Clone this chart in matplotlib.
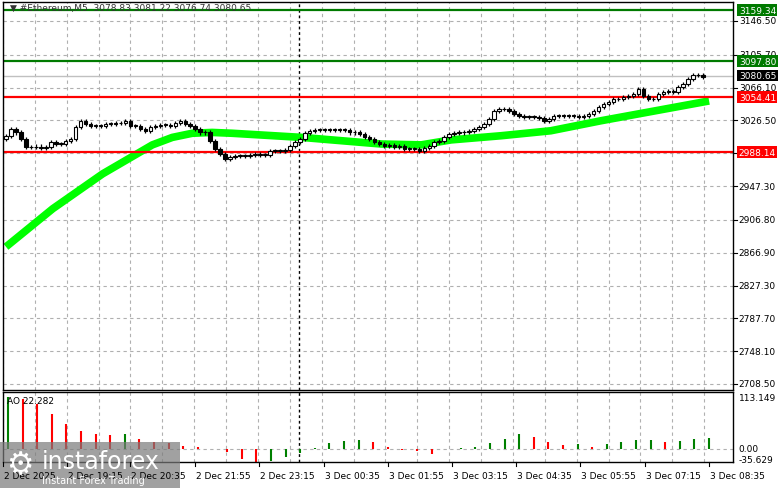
import numpy as np
import matplotlib
matplotlib.use("Agg")
import matplotlib.pyplot as plt
from matplotlib.patches import Rectangle

closes = [3008,3016,3012,3004,2994,2994,2995,2993,2994,3000,2998,2998,3002,3004,3019,3026,3022,3020,3020,3020,
          3022,3022,3023,3023,3026,3020,3020,3016,3014,3019,3020,3021,3021,3020,3023,3026,3022,3020,3016,3012,
          3012,3002,2992,2986,2980,2982,2984,2984,2984,2985,2986,2985,2985,2990,2990,2990,2991,2996,3000,3004,
          3011,3014,3015,3015,3015,3015,3015,3015,3015,3012,3012,3010,3006,3004,3000,2998,2996,2997,2994,2996,
          2992,2992,2992,2990,2993,2996,3000,3002,3006,3010,3011,3012,3013,3014,3016,3019,3022,3028,3038,3040,
          3040,3038,3034,3032,3031,3031,3031,3029,3026,3028,3032,3032,3032,3032,3032,3031,3032,3034,3038,3043,
          3046,3049,3052,3052,3055,3056,3058,3064,3056,3052,3052,3058,3061,3062,3061,3067,3070,3076,3081,3081,3079]
first_open = 3004
ma_pos = [0, 9.4, 19.4, 25.4, 29.4, 33.4, 37.4, 41.4, 45.4, 59.4, 75.4, 83.4, 89.4, 99.4, 109.4, 119.4, 129.4, 141.2]
ma_val = [2874, 2920, 2962, 2983, 2997, 3006, 3011, 3012, 3011, 3006, 2998, 2997, 3003, 3008, 3014, 3026, 3037, 3050]
ao_vals = [115,111,100,78,55,40,33,31,33,22,15,13,7,4,0,-7,-22,-29,-27,-18,-9,2,13,18,20,15,4,-2,-4,-11,
           0,2,4,13,22,33,27,15,9,11,4,11,15,20,20,15,18,22,24]
yticks = [3146.50, 3105.70, 3066.10, 3026.50, 2986.90, 2947.30, 2906.80, 2866.90, 2827.30, 2787.70, 2748.10, 2708.50]
levels = [(3159.34, '#007a00'), (3097.80, '#007a00'), (3054.41, '#ff0000'), (2988.14, '#ff0000')]
current = 3080.65
date_labels = ['2 Dec 2025', '2 Dec 19:15', '2 Dec 20:35', '2 Dec 21:55', '2 Dec 23:15', '3 Dec 00:35',
               '3 Dec 01:55', '3 Dec 03:15', '3 Dec 04:35', '3 Dec 05:55', '3 Dec 07:15', '3 Dec 08:35']
date_px = [3, 67, 130, 195, 259, 324, 388, 452, 516, 580, 645, 709]

W, H = 781, 489
fig = plt.figure(figsize=(W/100, H/100), dpi=100)
def axrect(l, t, r, b):
    return [l/W, 1-b/H, (r-l)/W, (b-t)/H]
ax = fig.add_axes(axrect(3, 3, 733, 391))
ao = fig.add_axes(axrect(3, 393, 733, 463))
xmin, xmax = -0.6, 146.0
ymin = 3173.0 - 1.2066*391; ymax = 3173.0 - 1.2066*3

for a in (ax, ao):
    a.set_xlim(xmin, xmax)
    a.set_xticks([])
    a.set_yticks([])
    for s in a.spines.values():
        s.set_color('black'); s.set_linewidth(1)
    for g in np.arange(0, 740, 32):
        a.axvline((g-3)/5, color='#b0b0b0', ls=(0, (3, 3)), lw=0.8, zorder=0)
ax.set_ylim(ymin, ymax)
for t in yticks:
    ax.axhline(t, color='#b0b0b0', ls=(0, (3, 3)), lw=0.8, zorder=0)
ax.axvline((297-3)/5, color='black', ls=(0, (2, 2)), lw=1, zorder=1)
ao.axvline((297-3)/5, color='black', ls=(0, (2, 2)), lw=1, zorder=1)

opens = [first_open] + closes[:-1]
for i, (o, c) in enumerate(zip(opens, closes)):
    hi = max(o, c) + 2.5; lo = min(o, c) - 2.5
    ax.vlines(i, lo, hi, color='black', lw=0.9, zorder=3)
    h = max(abs(c-o), 0.8)
    ax.add_patch(Rectangle((i-0.35, min(o, c)), 0.7, h, facecolor='white' if c >= o else 'black',
                           edgecolor='black', lw=0.8, zorder=4))
ax.plot(ma_pos, ma_val, color='#00ff00', lw=5.5, zorder=2, solid_capstyle='butt')
for v, col in levels:
    ax.axhline(v, color=col, lw=1.6, zorder=2)
ax.axhline(current, color='#c0c0c0', lw=1, zorder=1)

ax.text(0.01, 0.997, '\u25bc #Ethereum,M5  3078.83 3081.22 3076.74 3080.65', transform=ax.transAxes,
        fontsize=6.5, va='top', ha='left', color='#333333')

def rlabel(y, txt, bg=None, fg='black'):
    kw = dict(fontsize=6.5, va='center', ha='left', color=fg, transform=ax.get_yaxis_transform(), clip_on=False)
    if bg:
        kw['bbox'] = dict(boxstyle='square,pad=0.15', fc=bg, ec='none')
    ax.text(1.008, y, txt, **kw)
for t in yticks:
    if ymin <= t <= ymax:
        ax.plot([1, 1.005], [t, t], color='black', lw=0.8, transform=ax.get_yaxis_transform(), clip_on=False)
        rlabel(t, f'{t:.2f}')
for v, col in levels:
    rlabel(v, f'{v:.2f}', bg=col, fg='white')
rlabel(current, f'{current:.2f}', bg='black', fg='white')

apos = np.linspace(0.4, 141.2, len(ao_vals))
ao.set_ylim(-29, 126)
for i, (p, v) in enumerate(zip(apos, ao_vals)):
    col = '#008000' if (i == 0 or v >= ao_vals[i-1]) else '#ff0000'
    ao.vlines(p, 0, v, color=col, lw=1.5)
ao.axhline(0, color='#b0b0b0', ls=(0, (3, 3)), lw=0.8, zorder=0)
ao.text(0.005, 0.95, 'AO 22.282', transform=ao.transAxes, fontsize=6.5, va='top', ha='left')
for v, pos, txt in [(113.149, 113.149, '113.149'), (0, 1, '0.00'), (-35.629, -24, '-35.629')]:
    ao.text(1.008, pos, txt, fontsize=6.5, va='center', ha='left', transform=ao.get_yaxis_transform(), clip_on=False)

for px, lab in zip(date_px, date_labels):
    fig.text((px+1)/W, 1-477/H, lab, fontsize=6.5, va='center', ha='left')
    fig.add_artist(plt.Line2D([px/W, px/W], [1-463/H, 1-467/H], color='black', lw=0.8))

fig.add_artist(Rectangle((0, 1-489/H), 180/W, 46/H, transform=fig.transFigure, facecolor='#7a7a7a', alpha=0.7, edgecolor='none'))
fig.text(42/W, 1-462/H, 'instaforex', fontsize=17, color='white', va='center', ha='left')
fig.text(42/W, 1-481/H, 'Instant Forex Trading', fontsize=7, color='white', va='center', ha='left')
fig.text(20/W, 1-466/H, '\u2699', fontsize=22, color='white', va='center', ha='center')

fig.savefig('out.png', dpi=100, facecolor='white')
